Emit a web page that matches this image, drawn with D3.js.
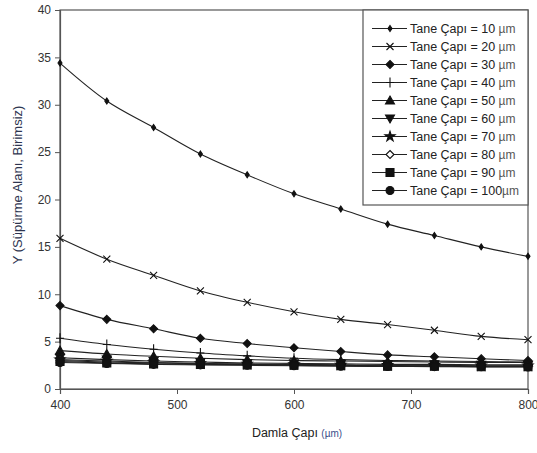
<!DOCTYPE html>
<html>
<head>
<meta charset="utf-8">
<script src="https://cdn.jsdelivr.net/npm/d3@7"></script>
<style>
    body { margin: 0; background: #fff; }
    text { font-family: "Liberation Sans", Arial, sans-serif; }
</style>
</head>
<body>
<div id="chart-area"></div>
<script>
// droplet diameter (x axis)
const damlaCapi = [400, 440, 480, 520, 560, 600, 640, 680, 720, 760, 800];

// particle diameters, one series each
const taneCapi = [10, 20, 30, 40, 50, 60, 70, 80, 90, 100];

const y10  = [34.4, 30.4, 27.6, 24.8, 22.6, 20.6, 19.0, 17.4, 16.2, 15.0, 14.0];
const y20  = [15.9, 13.7, 12.0, 10.35, 9.15, 8.15, 7.35, 6.8, 6.2, 5.55, 5.2];
const y30  = [8.8, 7.35, 6.35, 5.35, 4.8, 4.35, 3.95, 3.6, 3.4, 3.2, 3.0];
const y40  = [5.35, 4.7, 4.2, 3.8, 3.5, 3.25, 3.1, 3.0, 2.95, 2.9, 2.85];
const y50  = [4.05, 3.7, 3.45, 3.25, 3.1, 3.0, 2.95, 2.9, 2.85, 2.8, 2.8];
const y60  = [3.3, 3.1, 2.95, 2.85, 2.75, 2.7, 2.65, 2.6, 2.6, 2.55, 2.55];
const y70  = [3.1, 2.95, 2.8, 2.7, 2.65, 2.6, 2.55, 2.5, 2.5, 2.45, 2.45];
const y80  = [3.0, 2.85, 2.75, 2.65, 2.6, 2.55, 2.5, 2.45, 2.45, 2.4, 2.4];
const y90  = [2.9, 2.75, 2.65, 2.6, 2.55, 2.5, 2.45, 2.4, 2.4, 2.35, 2.35];
const y100 = [2.8, 2.7, 2.6, 2.55, 2.5, 2.45, 2.4, 2.38, 2.36, 2.34, 2.33];

const yTicks = [0, 5, 10, 15, 20, 25, 30, 35, 40];
const xTicks = [400, 500, 600, 700, 800];

const seriesValues = [y10, y20, y30, y40, y50, y60, y70, y80, y90, y100];
const markerTypes = ["smallDiamond", "times", "diamond", "plus", "triangleUp",
    "triangleDown", "star", "openDiamond", "square", "circle"];

// marker path builder, centred on 0,0
function markerPath(type) {
    switch (type) {
        case "smallDiamond": return "M0,-3L2,0L0,3L-2,0Z";
        case "times": return "M-3.5,-3.5L3.5,3.5M3.5,-3.5L-3.5,3.5";
        case "diamond": return "M0,-4L4,0L0,4L-4,0Z";
        case "plus": return "M0,-5L0,5M-4,0L4,0";
        case "triangleUp": return "M0,-4.5L4.5,3.5L-4.5,3.5Z";
        case "triangleDown": return "M0,4.5L4.5,-3.5L-4.5,-3.5Z";
        case "star": return d3.symbol(d3.symbolStar, 32)();
        case "openDiamond": return "M0,-4L4,0L0,4L-4,0Z";
        case "square": return "M-4,-4L4,-4L4,4L-4,4Z";
        case "circle": return d3.symbol(d3.symbolCircle, 50)();
    }
}

function markerFill(type) {
    if (type == "openDiamond") return "#fff";
    if (type == "times" || type == "plus") return "none";
    return "#111";
}

LineChart = function(_parentElement) {
    this.parentElement = _parentElement;
    this.initVis();
}

LineChart.prototype.initVis = function() {
    let vis = this;

    vis.width = 537;
    vis.height = 453;
    vis.plot = { left: 60, right: 528, top: 10, bottom: 389 };

    vis.svg = d3.select("#" + vis.parentElement)
        .append("svg")
        .attr("width", vis.width)
        .attr("height", vis.height);

    vis.x = d3.scaleLinear().domain([400, 800]).range([vis.plot.left, vis.plot.right]);
    vis.y = d3.scaleLinear().domain([0, 40]).range([vis.plot.bottom, vis.plot.top]);

    vis.data = taneCapi.map((t, i) => ({
        tane: t,
        marker: markerTypes[i],
        values: damlaCapi.map((d, j) => ({ x: d, y: seriesValues[i][j] }))
    }));

    vis.updateVis();
}

LineChart.prototype.updateVis = function() {
    let vis = this;

    // frame
    vis.svg.append("rect")
        .attr("x", vis.plot.left)
        .attr("y", vis.plot.top)
        .attr("width", vis.plot.right - vis.plot.left)
        .attr("height", vis.plot.bottom - vis.plot.top)
        .attr("fill", "none")
        .attr("stroke", "#555")
        .attr("stroke-width", 1.2);

    // axes
    let yAxis = vis.svg.append("g")
        .attr("transform", "translate(" + vis.plot.left + ",0)")
        .call(d3.axisLeft(vis.y).tickValues(yTicks).tickSize(5).tickPadding(4));
    let xAxis = vis.svg.append("g")
        .attr("transform", "translate(0," + vis.plot.bottom + ")")
        .call(d3.axisBottom(vis.x).tickValues(xTicks).tickSize(5).tickPadding(6));

    [xAxis, yAxis].forEach(a => {
        a.select(".domain").attr("stroke", "#555").attr("stroke-width", 1.2);
        a.selectAll(".tick line").attr("stroke", "#555");
        a.selectAll(".tick text")
            .attr("fill", "#333")
            .style("font-size", "12px")
            .style("font-family", "'Liberation Sans', Arial, sans-serif");
    });

    // lines
    let line = d3.line()
        .x(d => vis.x(d.x))
        .y(d => vis.y(d.y))
        .curve(d3.curveCatmullRom);

    vis.svg.selectAll(".series-line")
        .data(vis.data)
        .enter()
        .append("path")
        .attr("class", "series-line")
        .attr("d", d => line(d.values))
        .attr("fill", "none")
        .attr("stroke", "#222")
        .attr("stroke-width", 1.1);

    // markers
    vis.data.forEach(s => {
        vis.svg.selectAll(".m-" + s.tane)
            .data(s.values)
            .enter()
            .append("path")
            .attr("class", "m-" + s.tane)
            .attr("transform", d => "translate(" + vis.x(d.x) + "," + vis.y(d.y) + ")")
            .attr("d", markerPath(s.marker))
            .attr("fill", markerFill(s.marker))
            .attr("stroke", "#111")
            .attr("stroke-width", 1.1);
    });

    // legend
    let legend = vis.svg.append("g");
    legend.append("rect")
        .attr("x", 363)
        .attr("y", vis.plot.top)
        .attr("width", vis.plot.right - 363)
        .attr("height", 195)
        .attr("fill", "#fff")
        .attr("stroke", "#555")
        .attr("stroke-width", 1.2);

    let rows = legend.selectAll(".legend-row")
        .data(vis.data)
        .enter()
        .append("g")
        .attr("class", "legend-row")
        .attr("transform", (d, i) => "translate(0," + (28.5 + i * 18) + ")");

    rows.append("line")
        .attr("x1", 372).attr("x2", 407)
        .attr("stroke", "#222").attr("stroke-width", 1.1);
    rows.append("path")
        .attr("transform", "translate(390,0)")
        .attr("d", d => markerPath(d.marker))
        .attr("fill", d => markerFill(d.marker))
        .attr("stroke", "#111")
        .attr("stroke-width", 1.1);

    let label = rows.append("text")
        .attr("x", 410)
        .attr("dy", "0.35em")
        .attr("fill", "#222")
        .style("font-size", "12.5px");
    label.append("tspan").text(d => "Tane Çapı = " + d.tane + (d.tane == 100 ? "" : " "));
    label.append("tspan").attr("fill", "#555").style("font-size", "12px").text("µm");

    // axis titles
    let xt = vis.svg.append("text")
        .attr("x", 297)
        .attr("y", 437)
        .attr("text-anchor", "middle")
        .attr("fill", "#222")
        .style("font-size", "12.5px");
    xt.append("tspan").text("Damla Çapı ");
    xt.append("tspan").attr("fill", "#3a4f8a").style("font-size", "10px").text("(µm)");

    vis.svg.append("text")
        .attr("transform", "translate(22,185) rotate(-90)")
        .attr("text-anchor", "middle")
        .attr("fill", "#2e3550")
        .style("font-size", "13px")
        .text("Y (Süpürme Alanı, Birimsiz)");
}

new LineChart("chart-area");
</script>
</body>
</html>
